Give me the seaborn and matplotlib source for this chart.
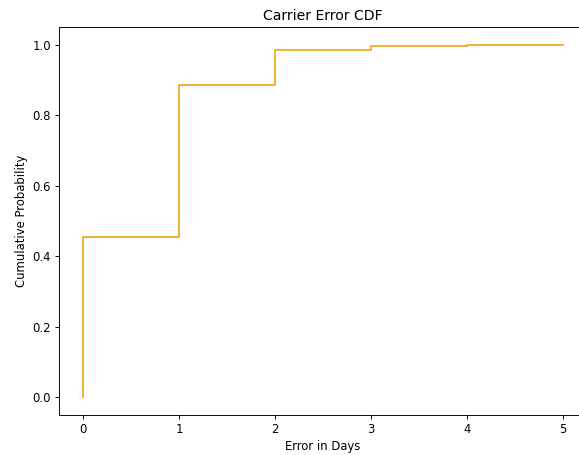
import matplotlib
matplotlib.use("Agg")
import matplotlib.pyplot as plt
import seaborn as sns
import pandas as pd

# Error in days and cumulative probability at each step
error_days = [0, 0, 1, 2, 3, 4, 5]
cum_prob = [0.0, 0.455, 0.885, 0.986, 0.997, 0.999, 1.0]

df = pd.DataFrame({"Error in Days": error_days, "Cumulative Probability": cum_prob})

DPI = 84
fig = plt.figure(figsize=(579 / DPI, 455 / DPI), dpi=DPI)
ax = fig.add_axes([0.1019, 0.0888, 0.9119, 0.851])

sns.lineplot(data=df, x="Error in Days", y="Cumulative Probability", ax=ax,
             sort=False, estimator=None, drawstyle="steps-post",
             color="#f5a623", linewidth=1.5)

ax.set_xlim(-0.25, 5.25)
ax.set_ylim(-0.05, 1.05)
ax.set_xticks([0, 1, 2, 3, 4, 5])
ax.set_yticks([0.0, 0.2, 0.4, 0.6, 0.8, 1.0])
ax.set_title("Carrier Error CDF")
ax.set_xlabel("Error in Days")
ax.set_ylabel("Cumulative Probability")

fig.savefig("out.png", dpi=DPI)
